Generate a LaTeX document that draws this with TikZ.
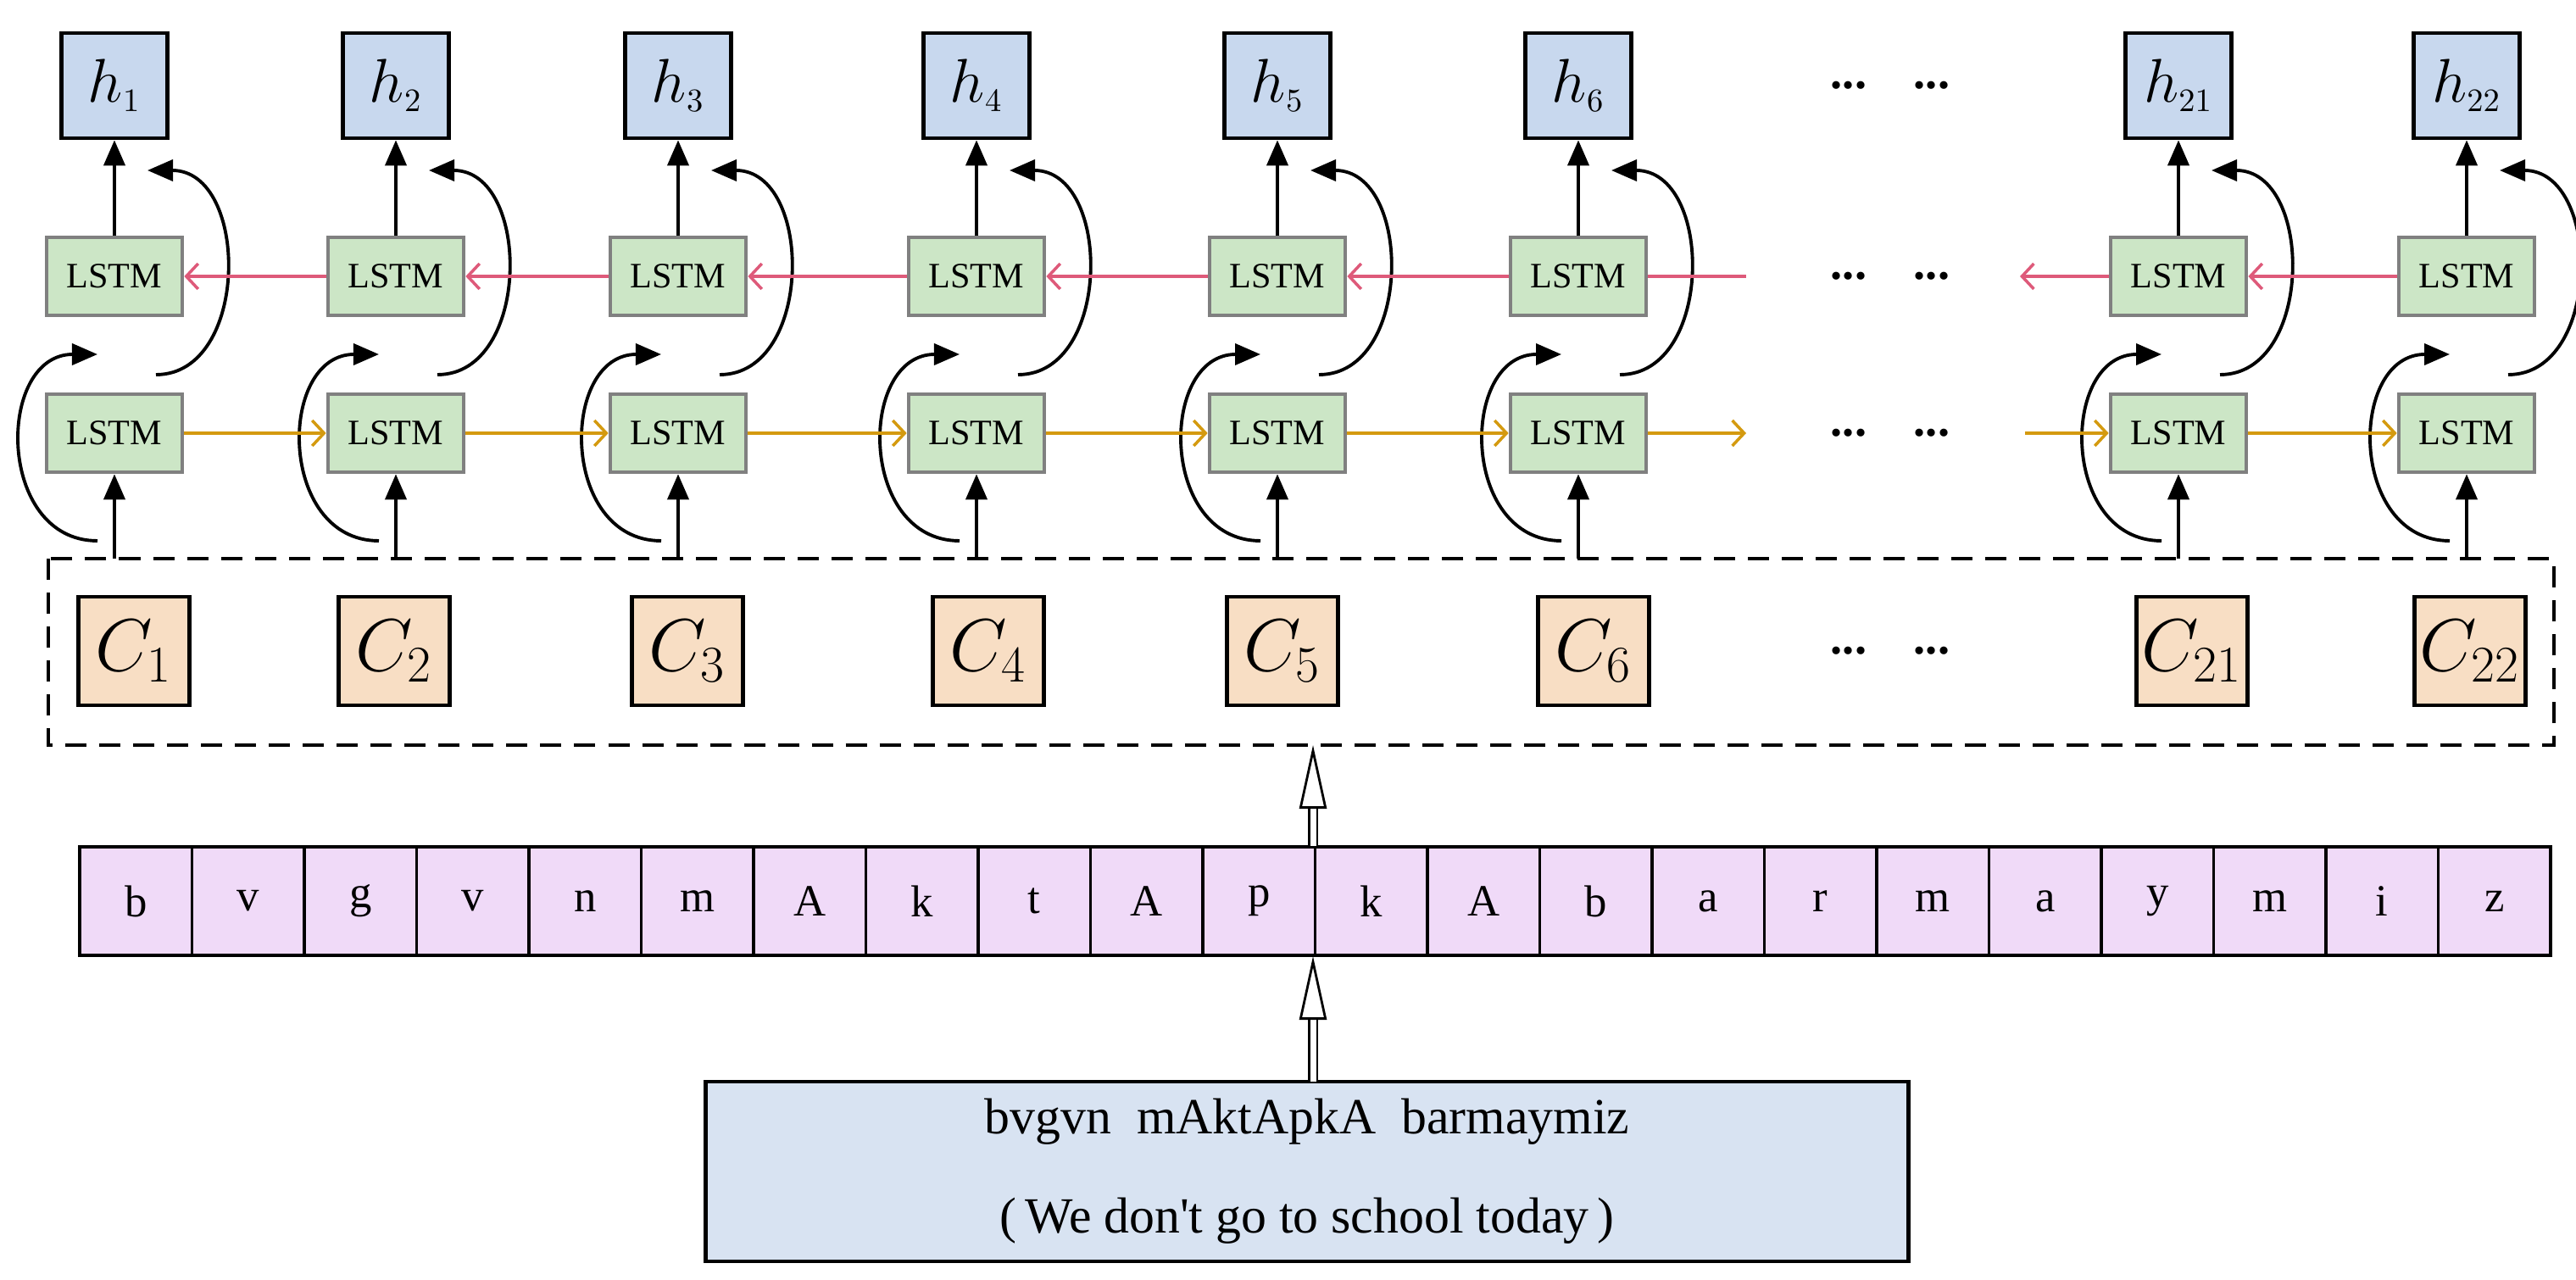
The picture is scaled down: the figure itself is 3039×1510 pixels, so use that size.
\documentclass[tikz,border=0pt]{standalone}
\usepackage{fontspec}
\setmainfont{Liberation Serif}
\usetikzlibrary{arrows.meta}
\definecolor{hblue}{HTML}{C8D8EE}
\definecolor{lgreen}{HTML}{CCE6C6}
\definecolor{cpeach}{HTML}{F8DEC4}
\definecolor{lpink}{HTML}{F0DAF8}
\definecolor{bblue}{HTML}{D8E3F2}
\definecolor{pinkl}{HTML}{DE5A7A}
\definecolor{orl}{HTML}{D49A10}
\begin{document}
\begin{tikzpicture}[x=0.01cm,y=-0.01cm,
 hbox/.style={draw=black,line width=1.3pt,fill=hblue,minimum width=1.25cm,minimum height=1.24cm,inner sep=0pt,font=\fontsize{22}{24}\selectfont},
 lstm/.style={draw=gray,line width=1.3pt,fill=lgreen,minimum width=1.6cm,minimum height=0.92cm,inner sep=0pt,font=\fontsize{12}{14}\selectfont},
 cbox/.style={draw=black,line width=1.3pt,fill=cpeach,minimum width=1.31cm,minimum height=1.28cm,inner sep=0pt,font=\fontsize{24}{26}\selectfont},
 lbox/.style={draw=black,line width=1pt,fill=lpink,minimum width=1.325cm,minimum height=1.28cm,inner sep=0pt,font=\fontsize{15}{17}\selectfont},
 blk/.style={line width=1.1pt,-{Triangle[length=0.3cm,width=0.25cm]}},
 fwd/.style={orl,line width=1pt,-{Straight Barb[length=0.14cm,width=0.3cm]}},
 bwd/.style={pinkl,line width=1pt,-{Straight Barb[length=0.14cm,width=0.3cm]}},
 dots/.style={font=\fontsize{16}{18}\selectfont\bfseries},
 hollow/.style={double,double distance=0.07cm,line width=0.8pt,-{Triangle[open,length=0.75cm,width=0.32cm]}}]
\useasboundingbox (0,0) rectangle (3039,1510);
\draw[dashed,line width=1.2pt,dash pattern=on 0.25cm off 0.15cm] (57,659) rectangle (3013,879);
\foreach \i/\x/\cx in {1/135/158,2/467/465,3/800/811,4/1152/1166,5/1507/1513,6/1862/1880,21/2570/2586,22/2910/2914}{
  \node[hbox] (h\i) at (\x,101) {$h_{\scriptscriptstyle\i}$};
  \node[lstm] (b\i) at (\x,326) {LSTM};
  \node[lstm] (f\i) at (\x,511) {LSTM};
  \node[cbox] (c\i) at (\cx,768) {$C_{\scriptstyle\i}$};
  \coordinate (in\i) at (\x,659);
  \draw[blk] (b\i.north) -- (h\i.south);
  \draw[blk] (in\i) -- (f\i.south);
  \draw[blk] (\x-20,638) .. controls (\x-140,638) and (\x-140,418) .. (\x-20,418);
  \draw[blk] (\x+49,442) .. controls (\x+160,442) and (\x+160,201) .. (\x+39,201);
}
\foreach \a/\b in {1/2,2/3,3/4,4/5,5/6,21/22}{
  \draw[fwd] (f\a) -- (f\b);
  \draw[bwd] (b\b) -- (b\a);
}
\coordinate (fo) at (2060,511); \coordinate (fi) at (2389,511);
\coordinate (bo) at (2060,326); \coordinate (bi) at (2383,326);
\draw[fwd] (f6) -- (fo);
\draw[fwd] (fi) -- (f21);
\draw[pinkl,line width=1pt] (b6) -- (bo);
\draw[bwd] (b21) -- (bi);
\foreach \y/\n in {101/a,326/b,511/c,768/d}{
  \node[dots] (d1\n) at (2181,\y) {...};
  \node[dots] (d2\n) at (2279,\y) {...};
}
\foreach \t [count=\k] in {b,v,g,v,n,m,A,k,t,A,p,k,A,b,a,r,m,a,y,m,i,z}{
  \node[lbox] (l\k) at (94+66.25+132.5*\k-132.5,1063) {\t};
}
\node[draw=black,line width=1.3pt,fill=bblue,minimum width=14.18cm,minimum height=2.12cm,align=center,font=\fontsize{17}{19}\selectfont] (src) at (1542,1382) {bvgvn\ \ mAktApkA\ \ barmaymiz\\[0.5cm](\,We don\textquotesingle t go to school today\,)};
\coordinate (a1) at (1549,1276); \coordinate (a2) at (1549,1128);
\coordinate (a3) at (1549,998); \coordinate (a4) at (1549,879);
\draw[hollow] (a1) -- (a2);
\draw[hollow] (a3) -- (a4);
\end{tikzpicture}
\end{document}
